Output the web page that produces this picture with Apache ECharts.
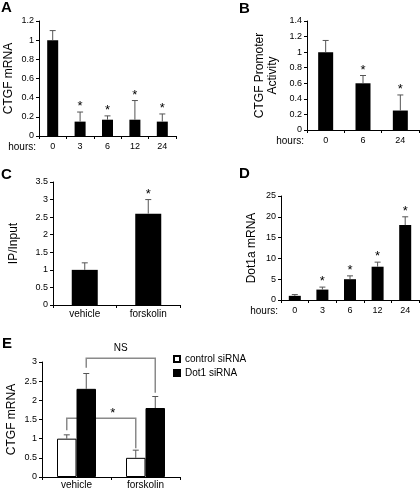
<!DOCTYPE html>
<html>
<head>
<meta charset="utf-8">
<script src="https://cdn.jsdelivr.net/npm/echarts@6/dist/echarts.min.js"></script>
<style>html,body{margin:0;padding:0;background:#fff;}#c{width:420px;height:489px;}</style>
</head>
<body>
<div id="c"></div>
<script>
// ---- Data ----
const aCats = ['0', '3', '6', '12', '24'];
const aVals = [1.0, 0.15, 0.17, 0.17, 0.15];
const aErr  = [1.1, 0.25, 0.21, 0.37, 0.23];
const aSig  = [0, 1, 1, 1, 1];

const bCats = ['0', '6', '24'];
const bVals = [1.0, 0.6, 0.25];
const bErr  = [1.15, 0.7, 0.45];
const bSig  = [0, 1, 1];

const cCats = ['vehicle', 'forskolin'];
const cVals = [1.0, 2.6];
const cErr  = [1.2, 3.0];
const cSig  = [0, 1];

const dCats = ['0', '3', '6', '12', '24'];
const dVals = [1.0, 2.5, 5.0, 8.0, 18.0];
const dErr  = [1.3, 3.1, 5.8, 9.1, 20.0];
const dSig  = [0, 1, 1, 1, 1];

const eCats = ['vehicle', 'forskolin'];
const eControl = [1.0, 0.5];
const eControlErr = [1.1, 0.7];
const eDot1 = [2.3, 1.8];
const eDot1Err = [2.7, 2.1];
// brackets: [leftCat, leftSide(-1 control/+1 Dot1), leftBottom, rightCat, rightSide, rightBottom, topLevel]
const eBrackets = [
  [0, 1, 2.85, 1, 1, 2.2, 3.1],
  [0, -1, 1.22, 1, -1, 0.75, 1.53]
];
const eBracketLabels = ['NS', '*'];

// ---- Styles ----
const F = 'Liberation Sans, Arial, sans-serif';
const ERR_COLOR = '#555';

function catAxis(grid, data, extra) {
  return Object.assign({
    type: 'category', gridIndex: grid, data: data,
    axisLine: { show: true, lineStyle: { color: '#000', width: 1 } },
    axisTick: { show: true, length: 3, lineStyle: { color: '#000' } },
    axisLabel: { color: '#000', fontSize: 9, margin: 6, fontFamily: F },
    splitLine: { show: false }
  }, extra || {});
}
function hoursName() {
  return {
    name: 'hours:', nameLocation: 'start', nameGap: 3,
    nameTextStyle: { fontSize: 10, color: '#000', fontFamily: F, verticalAlign: 'top', padding: [6, 0, 0, 0] }
  };
}
function valAxis(grid, max, interval, name, gap) {
  return {
    type: 'value', gridIndex: grid, min: 0, max: max, interval: interval,
    name: name, nameLocation: 'middle', nameGap: gap,
    nameTextStyle: { fontSize: 12, color: '#000', fontFamily: F, lineHeight: 13 },
    axisLine: { show: true, lineStyle: { color: '#000', width: 1 } },
    axisTick: { show: true, length: 3, lineStyle: { color: '#000' } },
    axisLabel: { color: '#000', fontSize: 9, margin: 5, fontFamily: F },
    splitLine: { show: false }
  };
}

function errRender(offset, cap) {
  return function (params, api) {
    const cat = api.value(0), v = api.value(1), top = api.value(2), sig = api.value(3);
    const p0 = api.coord([cat, v]);
    const p1 = api.coord([cat, top]);
    const x = p0[0] + offset;
    const children = [
      { type: 'line', shape: { x1: x, y1: p0[1], x2: x, y2: p1[1] }, style: { stroke: ERR_COLOR, lineWidth: 1 } },
      { type: 'line', shape: { x1: x - cap, y1: p1[1], x2: x + cap, y2: p1[1] }, style: { stroke: ERR_COLOR, lineWidth: 1 } }
    ];
    if (sig) {
      children.push({ type: 'text', x: x, y: p1[1] + 1, style: { text: '*', fontSize: 13, fontFamily: F, fill: '#000', align: 'center', verticalAlign: 'bottom' } });
    }
    return { type: 'group', children: children };
  };
}
function errData(vals, errs, sigs) {
  return vals.map(function (v, i) { return [i, v, errs[i], sigs ? sigs[i] : 0]; });
}
function errSeries(xi, yi, vals, errs, sigs, offset, cap) {
  return {
    type: 'custom', xAxisIndex: xi, yAxisIndex: yi, z: 5,
    renderItem: errRender(offset, cap),
    encode: { x: 0, y: [1, 2] },
    data: errData(vals, errs, sigs), silent: true
  };
}

const E_BAR_W = 19.5;
function bracketRender(params, api) {
  const lc = api.value(0), ls = api.value(1), lb = api.value(2);
  const rc = api.value(3), rs = api.value(4), rb = api.value(5), tl = api.value(6);
  const half = E_BAR_W / 2;
  const pl = api.coord([lc, lb]); const pr = api.coord([rc, rb]); const pt = api.coord([lc, tl]);
  const xl = pl[0] + ls * half, xr = pr[0] + rs * half, yt = pt[1];
  const st = { stroke: '#8a8a8a', lineWidth: 1.5, fill: null };
  const label = eBracketLabels[params.dataIndex];
  const lx = label === '*' ? ((xl + E_BAR_W * 1.5) + xr) / 2 - 3 : (xl + xr) / 2;
  return {
    type: 'group', children: [
      { type: 'polyline', shape: { points: [[xl, pl[1]], [xl, yt], [xr, yt], [xr, pr[1]]] }, style: st },
      { type: 'text', x: lx, y: yt - (label === '*' ? -2 : 5), style: { text: label, fontSize: label === '*' ? 13 : 10, fontFamily: F, fill: '#000', align: 'center', verticalAlign: 'bottom' } }
    ]
  };
}

function title(t, left, top) {
  return { text: t, left: left, top: top, padding: 0, textStyle: { fontSize: 15, fontWeight: 'bold', color: '#000', fontFamily: F } };
}

const option = {
  animation: false,
  backgroundColor: '#fff',
  title: [title('A', 1, 0), title('B', 239, 1), title('C', 1, 167), title('D', 239, 166), title('E', 2, 336)],
  legend: {
    left: 173, top: 354, orient: 'vertical', itemWidth: 6, itemHeight: 6, itemGap: 4, padding: 0,
    icon: 'rect',
    textStyle: { fontSize: 10, color: '#000', fontFamily: F },
    data: ['control siRNA', 'Dot1 siRNA']
  },
  grid: [
    { left: 39, top: 21, width: 137, height: 115, outerBoundsMode: 'none' },
    { left: 307, top: 21, width: 112, height: 109, outerBoundsMode: 'none' },
    { left: 53, top: 182, width: 127, height: 123, outerBoundsMode: 'none' },
    { left: 281, top: 196, width: 138, height: 104, outerBoundsMode: 'none' },
    { left: 42, top: 362, width: 138, height: 115, outerBoundsMode: 'none' }
  ],
  xAxis: [
    catAxis(0, aCats, hoursName()),
    catAxis(1, bCats, hoursName()),
    catAxis(2, cCats, { axisLabel: { color: '#000', fontSize: 10, margin: 4, fontFamily: F } }),
    catAxis(3, dCats, hoursName()),
    catAxis(4, eCats, { axisLabel: { color: '#000', fontSize: 10, margin: 3, fontFamily: F } })
  ],
  yAxis: [
    valAxis(0, 1.2, 0.2, 'CTGF mRNA', 24),
    valAxis(1, 1.4, 0.2, 'CTGF Promoter\nActivity', 28),
    valAxis(2, 3.5, 0.5, 'IP/Input', 33),
    valAxis(3, 25, 5, 'Dot1a mRNA', 23),
    valAxis(4, 3, 0.5, 'CTGF mRNA', 24)
  ],
  series: [
    { type: 'bar', xAxisIndex: 0, yAxisIndex: 0, data: aVals, barWidth: 11, itemStyle: { color: '#000' } },
    errSeries(0, 0, aVals, aErr, aSig, 0, 3),
    { type: 'bar', xAxisIndex: 1, yAxisIndex: 1, data: bVals, barWidth: 15, itemStyle: { color: '#000' } },
    errSeries(1, 1, bVals, bErr, bSig, 0, 3),
    { type: 'bar', xAxisIndex: 2, yAxisIndex: 2, data: cVals, barWidth: 26, itemStyle: { color: '#000' } },
    errSeries(2, 2, cVals, cErr, cSig, 0, 3),
    { type: 'bar', xAxisIndex: 3, yAxisIndex: 3, data: dVals, barWidth: 12, itemStyle: { color: '#000' } },
    errSeries(3, 3, dVals, dErr, dSig, 0, 3),
    { name: 'control siRNA', type: 'bar', xAxisIndex: 4, yAxisIndex: 4, data: eControl, barWidth: E_BAR_W, barGap: '0%', z: 3,
      itemStyle: { color: '#fff', borderColor: '#000', borderWidth: 1 } },
    { name: 'Dot1 siRNA', type: 'bar', xAxisIndex: 4, yAxisIndex: 4, data: eDot1, barWidth: E_BAR_W, barGap: '0%', z: 3,
      itemStyle: { color: '#000', borderColor: '#000', borderWidth: 1 } },
    errSeries(4, 4, eControl, eControlErr, null, -E_BAR_W / 2, 3),
    errSeries(4, 4, eDot1, eDot1Err, null, E_BAR_W / 2, 3),
    { type: 'custom', xAxisIndex: 4, yAxisIndex: 4, z: 1, silent: true,
      renderItem: bracketRender, encode: { x: [0, 3], y: [2, 5, 6] }, data: eBrackets }
  ]
};

const chart = echarts.init(document.getElementById('c'), null, { renderer: 'canvas' });
chart.setOption(option);
</script>
</body>
</html>
